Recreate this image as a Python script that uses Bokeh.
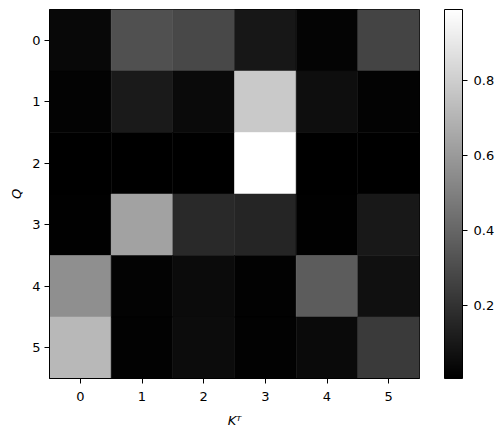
from bokeh.plotting import figure
from bokeh.models import (LinearColorMapper, ColorBar, FixedTicker, Range1d,
                          ColumnDataSource, LinearAxis)
from bokeh.transform import transform
from bokeh.embed import file_html
from bokeh.resources import INLINE

# attention weights: rows = Q index, columns = K^T index
row0 = [0.035, 0.313, 0.282, 0.093, 0.023, 0.267]
row1 = [0.016, 0.105, 0.043, 0.781, 0.058, 0.019]
row2 = [0.005, 0.005, 0.004, 0.990, 0.004, 0.005]
row3 = [0.008, 0.630, 0.163, 0.147, 0.008, 0.097]
row4 = [0.557, 0.019, 0.047, 0.012, 0.360, 0.066]
row5 = [0.715, 0.012, 0.054, 0.012, 0.043, 0.228]
rows = [row0, row1, row2, row3, row4, row5]
tick_labels = ["0", "1", "2", "3", "4", "5"]
cbar_ticks = [0.2, 0.4, 0.6, 0.8]

xs, ys, vals = [], [], []
for i, r in enumerate(rows):
    for j, v in enumerate(r):
        xs.append(j)
        ys.append(i)
        vals.append(v)
src = ColumnDataSource(dict(x=xs, y=ys, v=vals))

palette = ["#%02x%02x%02x" % (k, k, k) for k in range(256)]
mapper = LinearColorMapper(palette=palette, low=min(vals), high=max(vals))

FONT = "DejaVu Sans"
p = figure(frame_width=370, frame_height=369,
           x_range=Range1d(-0.5, 5.5), y_range=Range1d(5.5, -0.5),
           output_backend="svg", toolbar_location=None,
           min_border_top=9, min_border_left=49, min_border_right=5,
           min_border_bottom=5)
p.rect(x="x", y="y", width=1, height=1, source=src,
       fill_color=transform("v", mapper), line_color=transform("v", mapper),
       line_width=0.5)

p.grid.visible = False
p.outline_line_color = "black"
p.outline_line_width = 1
p.background_fill_color = "white"

for ax in (p.xaxis[0], p.yaxis[0]):
    ax.ticker = FixedTicker(ticks=[0, 1, 2, 3, 4, 5])
    ax.major_label_overrides = {k: tick_labels[k] for k in range(6)}
    ax.minor_tick_line_color = None
    ax.major_tick_in = 0
    ax.major_tick_out = 5
    ax.major_tick_line_color = "black"
    ax.axis_line_color = "black"
    ax.major_label_text_font = FONT
    ax.major_label_text_font_size = "13px"
    ax.major_label_text_color = "black"
    ax.axis_label_text_font = FONT
    ax.axis_label_text_font_size = "13px"
    ax.axis_label_text_font_style = "italic"
    ax.axis_label_text_color = "black"

p.xaxis[0].axis_label = "K\u1d40"
p.xaxis[0].major_label_standoff = 8
p.xaxis[0].axis_label_standoff = 9
p.yaxis[0].axis_label = "Q"
p.yaxis[0].major_label_standoff = 4
p.yaxis[0].major_label_orientation = "horizontal"

# invisible spacer axis to create the gap between frame and colour bar
spacer = LinearAxis(ticker=FixedTicker(ticks=[0]), axis_line_color=None,
                    major_label_overrides={0: ""},
                    major_tick_line_color=None, minor_tick_line_color=None,
                    major_tick_in=0, major_tick_out=25, minor_tick_out=0,
                    major_label_standoff=0, major_label_text_font_size="1px")
p.add_layout(spacer, "right")

cb = ColorBar(color_mapper=mapper, width=18, height=369,
              ticker=FixedTicker(ticks=cbar_ticks),
              major_tick_in=0, major_tick_out=5,
              major_tick_line_color="black",
              bar_line_color="black",
              major_label_text_font=FONT,
              major_label_text_font_size="13px",
              major_label_text_color="black",
              label_standoff=6, padding=0, margin=0,
              background_fill_color=None, border_line_color=None)
p.add_layout(cb, "right")

open("out.html", "w").write(file_html(p, INLINE))
